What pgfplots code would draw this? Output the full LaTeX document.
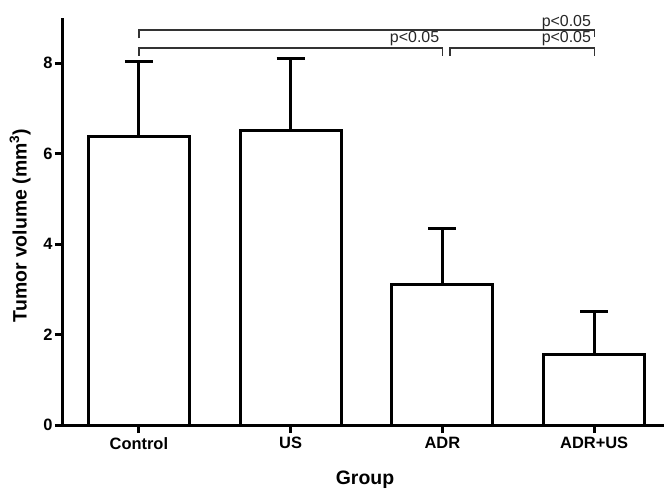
\documentclass[border=0pt]{standalone}
\usepackage{pgfplots}
\pgfplotsset{compat=1.18}
\usepackage{fontspec}
\setmainfont{Liberation Sans}
\begin{document}
\begin{tikzpicture}
\begin{axis}[
  at={(0,0)}, anchor=south west,
  scale only axis,
  width=601bp, height=407bp,
  xmin=-0.5, xmax=3.46,
  ymin=0, ymax=9,
  axis x line*=bottom, axis y line*=left,
  axis line style={line width=3bp, -},
  clip=false,
  xtick={0,1,2,3},
  xticklabels={Control,US,ADR,ADR+US},
  ytick={0,2,4,6,8},
  tick align=outside,
  major tick length=8bp,
  tick style={line width=3bp, black},
  /pgf/number format/assume math mode=true,
  xticklabel style={font=\bfseries\fontsize{16.5}{18}\selectfont, yshift=-1bp},
  yticklabel style={font=\bfseries\fontsize{16.5}{18}\selectfont, xshift=1bp},
  xlabel={Group},
  ylabel={Tumor volume (mm\textsuperscript{3})},
  label style={font=\bfseries\fontsize{19.5}{21}\selectfont},
  every axis x label/.append style={at={(axis description cs:0.5025,-0.1474)}, anchor=base},
  every axis y label/.append style={at={(axis description cs:-0.0715,0.49)}, anchor=center},
]
\addplot[ybar, bar width=101bp, fill=white, draw=black, line width=3bp,
  error bars/.cd, y dir=plus, y explicit,
  error bar style={line width=3bp, black},
  error mark options={line width=3bp, mark size=14bp, rotate=90, black}]
  coordinates {
  (0,6.375) +- (0,1.66)
  (1,6.51)  +- (0,1.60)
  (2,3.11)  +- (0,1.24)
  (3,1.548) +- (0,0.96)
};
% significance brackets
\addplot[black!80, line width=1.3bp, no marks, sharp plot] coordinates {(0,8.55) (0,8.735) (3,8.735) (3,8.59)};
\addplot[black!80, line width=1.3bp, no marks, sharp plot] coordinates {(0,8.16) (0,8.34) (2,8.34) (2,8.16)};
\addplot[black!80, line width=1.3bp, no marks, sharp plot] coordinates {(2.05,8.16) (2.05,8.34) (3,8.34) (3,8.16)};
\node[anchor=base east, inner sep=0pt, font=\fontsize{16}{18}\selectfont, text=black!85] at (axis cs:2.98,8.82) {p<0.05};
\node[anchor=base east, inner sep=0pt, font=\fontsize{16}{18}\selectfont, text=black!85] at (axis cs:1.98,8.45) {p<0.05};
\node[anchor=base east, inner sep=0pt, font=\fontsize{16}{18}\selectfont, text=black!85] at (axis cs:2.98,8.45) {p<0.05};
\end{axis}
\pgfresetboundingbox
\useasboundingbox (-63bp,-64bp) rectangle (601bp,425bp);
\end{tikzpicture}
\end{document}
